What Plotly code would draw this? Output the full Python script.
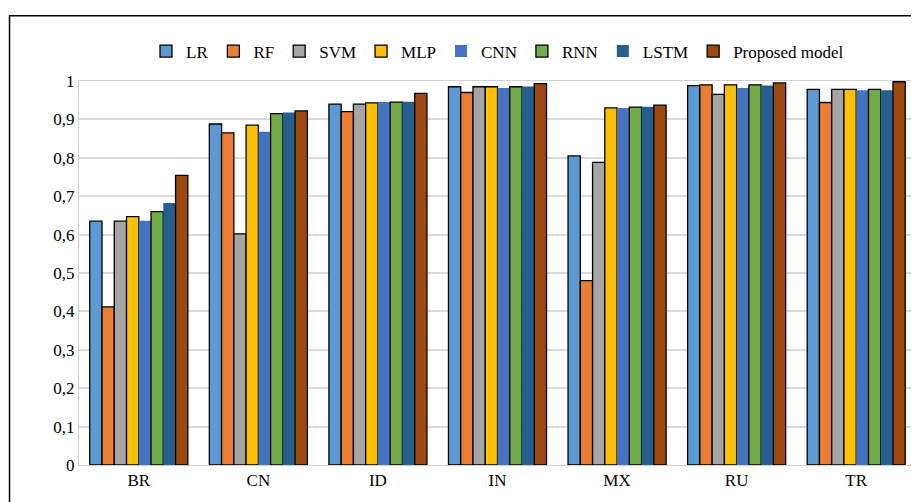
import plotly.graph_objects as go

categories = ["BR", "CN", "ID", "IN", "MX", "RU", "TR"]
LR   = [0.635, 0.888, 0.940, 0.985, 0.805, 0.988, 0.978]
RF   = [0.412, 0.865, 0.920, 0.970, 0.480, 0.990, 0.944]
SVM  = [0.635, 0.602, 0.940, 0.985, 0.788, 0.965, 0.978]
MLP  = [0.647, 0.885, 0.943, 0.985, 0.930, 0.990, 0.978]
CNN  = [0.636, 0.868, 0.945, 0.982, 0.930, 0.982, 0.976]
RNN  = [0.660, 0.915, 0.945, 0.985, 0.932, 0.990, 0.978]
LSTM = [0.682, 0.918, 0.946, 0.986, 0.933, 0.988, 0.976]
PROP = [0.754, 0.922, 0.968, 0.993, 0.937, 0.995, 0.998]

series = [("LR", LR, "#5B9BD5", True), ("RF", RF, "#ED7D31", True), ("SVM", SVM, "#A5A5A5", True),
          ("MLP", MLP, "#FFC000", True), ("CNN", CNN, "#4472C4", False), ("RNN", RNN, "#70AD47", True),
          ("LSTM", LSTM, "#255E91", False), ("Proposed model", PROP, "#9E480E", True)]

fig = go.Figure()
for name, vals, col, outline in series:
    fig.add_bar(x=categories, y=vals, name=name, marker_color=col,
                marker_line=dict(color="black", width=1.3 if outline else 0))

fig.update_layout(
    width=919, height=502, barmode="group", bargap=0.18, bargroupgap=0,
    paper_bgcolor="white", plot_bgcolor="white", separators=", ",
    font=dict(family="Liberation Serif", size=17, color="black"),
    margin=dict(l=71, r=11, t=73, b=45, autoexpand=False),
    legend=dict(orientation="h", x=0.5, xanchor="center", y=1.03, yanchor="bottom",
                font=dict(size=17), itemwidth=30, tracegroupgap=0),
    xaxis=dict(showline=True, linecolor="#D0D0D0", mirror=True, ticks=""),
    yaxis=dict(range=[0, 1], dtick=0.1, gridcolor="#D9D9D9", gridwidth=1.5,
               showline=True, linecolor="#D0D0D0", mirror=True, zeroline=False, ticklen=0),
    shapes=[dict(type="rect", xref="paper", yref="paper", x0=-0.083, x1=1.004, y0=-0.12, y1=1.17,
                 line=dict(color="black", width=1.5))],
)
fig.write_html("out.html")
